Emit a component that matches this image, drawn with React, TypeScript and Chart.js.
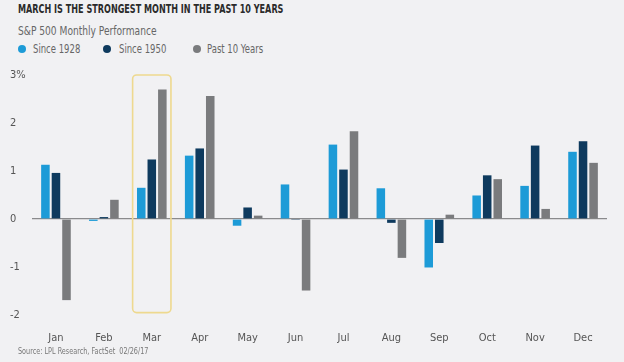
import React, { useEffect, useRef } from "react";
import { Chart, registerables } from "chart.js";

Chart.register(...registerables);

const months = ["Jan", "Feb", "Mar", "Apr", "May", "Jun", "Jul", "Aug", "Sep", "Oct", "Nov", "Dec"];
const since1928 = [1.13, -0.04, 0.65, 1.32, -0.14, 0.72, 1.55, 0.64, -1.01, 0.49, 0.69, 1.4];
const since1950 = [0.96, 0.04, 1.24, 1.47, 0.24, -0.02, 1.03, -0.08, -0.5, 0.91, 1.53, 1.62];
const past10 = [-1.69, 0.4, 2.7, 2.56, 0.07, -1.49, 1.83, -0.81, 0.09, 0.83, 0.21, 1.17];
const seriesNames = ["Since 1928", "Since 1950", "Past 10 Years"];
const seriesColors = ["#1d9bd7", "#0e3a5e", "#7a7b7d"];
const highlightIndex = 2;
const highlightRange = [3, -1.95];

const FONT = "'Liberation Sans Narrow', 'DejaVu Sans Condensed', 'Roboto', sans-serif";
const BG = "#f1f1f3";

const highlightPlugin = {
  id: "highlightBox",
  beforeDatasetsDraw(chart: any) {
    const x = chart.scales.x;
    const y = chart.scales.y;
    const cx = x.getPixelForValue(highlightIndex);
    const half = (x.width / months.length) * 0.4;
    const top = y.getPixelForValue(highlightRange[0]);
    const bottom = y.getPixelForValue(highlightRange[1]);
    const ctx = chart.ctx;
    ctx.save();
    ctx.strokeStyle = "#eed98f";
    ctx.lineWidth = 1.6;
    ctx.beginPath();
    (ctx as any).roundRect(cx - half, top, half * 2, bottom - top, 4);
    ctx.stroke();
    ctx.restore();
  },
};

const squeeze = (s: number): React.CSSProperties => ({
  transform: `scaleX(${s})`,
  transformOrigin: "left top",
  whiteSpace: "nowrap",
  position: "absolute",
});

export default function App() {
  const ref = useRef<HTMLCanvasElement>(null);
  useEffect(() => {
    if (!ref.current) return;
    const data = [since1928, since1950, past10];
    const chart = new Chart(ref.current, {
      type: "bar",
      data: {
        labels: months,
        datasets: data.map((d, i) => ({
          label: seriesNames[i],
          data: d,
          backgroundColor: seriesColors[i],
          borderWidth: 0,
          categoryPercentage: 0.66,
          barPercentage: 0.81,
        })),
      },
      options: {
        animation: false,
        responsive: false,
        maintainAspectRatio: false,
        layout: { padding: { left: 10, right: 17, top: 75, bottom: 16 } },
        plugins: {
          legend: { display: false },
          tooltip: { enabled: false },
        },
        scales: {
          x: {
            grid: { display: false },
            border: { display: false },
            ticks: { color: "#555", font: { family: FONT, size: 11 }, padding: 9 },
            afterFit(scale: any) {
              scale.height = 31;
            },
          },
          y: {
            min: -2,
            max: 3,
            grid: {
              drawTicks: false,
              color: (c: any) => (c.tick && c.tick.value === 0 ? "#8a8a8c" : "rgba(0,0,0,0)"),
              lineWidth: 1.2,
            },
            border: { display: false },
            ticks: {
              stepSize: 1,
              color: "#555",
              font: { family: FONT, size: 11 },
              crossAlign: "far",
              padding: 0,
              callback: (v: any) => (v === 3 ? "3%" : String(v)),
            },
            afterFit(scale: any) {
              scale.width = 22;
            },
          },
        },
      },
      plugins: [highlightPlugin],
    });
    return () => chart.destroy();
  }, []);

  const dotX = [22, 107, 197];
  const textX = [33, 119, 207];

  return (
    <div style={{ position: "absolute", left: 0, top: 0, width: 624, height: 362, background: BG, fontFamily: FONT, overflow: "hidden" }}>
      <div style={{ ...squeeze(0.72), left: 18, top: 1, fontWeight: "bold", fontSize: 12.5, color: "#2b2b2b" }}>
        MARCH IS THE STRONGEST MONTH IN THE PAST 10 YEARS
      </div>
      <div style={{ ...squeeze(0.88), left: 18, top: 24, fontSize: 11.5, color: "#666" }}>
        S&amp;P 500 Monthly Performance
      </div>
      {seriesNames.map((n, i) => (
        <React.Fragment key={n}>
          <div style={{ position: "absolute", left: dotX[i] - 4, top: 45, width: 8, height: 8, borderRadius: 4, background: seriesColors[i] }} />
          <div style={{ ...squeeze(0.82), left: textX[i], top: 42, fontSize: 11.5, color: "#666" }}>{n}</div>
        </React.Fragment>
      ))}
      <canvas ref={ref} width={624} height={362} style={{ position: "absolute", left: 0, top: 0, width: 624, height: 362 }} />
      <div style={{ ...squeeze(0.8), left: 18, top: 346, fontSize: 9, color: "#777" }}>
        Source: LPL Research, FactSet&nbsp;&nbsp;02/26/17
      </div>
    </div>
  );
}
